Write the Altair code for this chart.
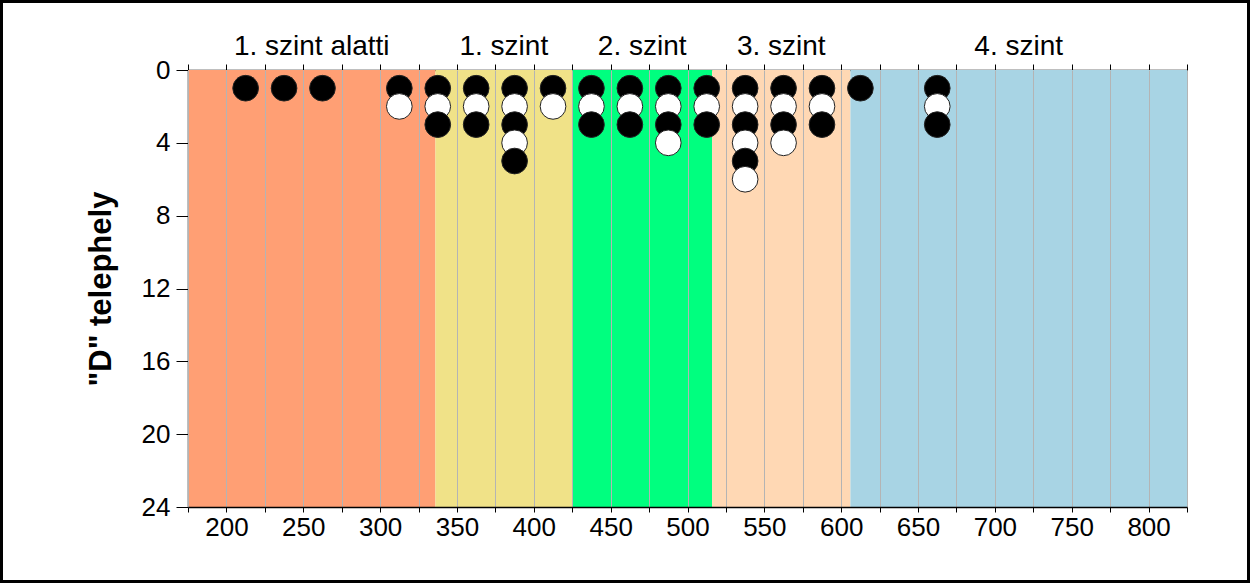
import altair as alt
import pandas as pd

# ---- data ----
band_start = [175, 336, 425, 516, 606]
band_end = [336, 425, 516, 606, 825]
band_labels = ["1. szint alatti", "1. szint", "2. szint", "3. szint", "4. szint"]
band_colors = ["#FF9F74", "#F0E288", "#00FF7F", "#FFD8B4", "#A8D4E4"]

col_x = [212.5, 237.5, 262.5, 312.5, 337.5, 362.5, 387.5, 412.5, 437.5,
         462.5, 487.5, 512.5, 537.5, 562.5, 587.5, 612.5, 662.5]
# stacked dots per column, top to bottom: B = black, W = white
col_stacks = ["B", "B", "B", "BW", "BWB", "BWB", "BWBWB", "BW", "BWB",
              "BWB", "BWBW", "BWB", "BWBWBW", "BWBW", "BWB", "B", "BWB"]

x_ticks = list(range(175, 826, 25))
y_ticks = [0, 4, 8, 12, 16, 20, 24]

FONT = "Liberation Sans"

bands = pd.DataFrame({
    "start": band_start,
    "end": band_end,
    "label": band_labels,
    "color": band_colors,
})
bands["mid"] = (bands["start"] + bands["end"]) / 2

rows = []
for cx, stack in zip(col_x, col_stacks):
    for i, c in enumerate(stack):
        rows.append({"x": cx, "y": i + 1, "c": c})
dots = pd.DataFrame(rows)

xscale = alt.Scale(domain=[175, 825], nice=False, zero=False)
yscale = alt.Scale(domain=[0, 24], reverse=True, nice=False, zero=False)

band_layer = alt.Chart(bands).mark_rect().encode(
    x=alt.X("start:Q", scale=xscale,
            axis=alt.Axis(orient="bottom", values=x_ticks, grid=True,
                          gridColor="#B4B4B4", gridWidth=1, gridOpacity=1,
                          labelExpr="datum.value % 50 == 0 ? datum.label : ''",
                          labelFontSize=26, labelFont=FONT, labelColor="black",
                          labelPadding=2, tickSize=5, tickColor="black",
                          domainColor="black", domainWidth=1.5, title=None,
                          labelFlush=False, labelOverlap=False, zindex=1)),
    x2="end:Q",
    y=alt.value(0),
    y2=alt.value(437),
    color=alt.Color("color:N", scale=None, legend=None),
)

dot_layer = alt.Chart(dots).mark_point(
    filled=True, shape="circle", size=660, stroke="#222222", strokeWidth=1,
    opacity=1
).encode(
    x=alt.X("x:Q", scale=xscale,
            axis=alt.Axis(orient="top", values=x_ticks, grid=False, labels=False,
                          tickSize=6, tickColor="black", domainColor="black",
                          domainWidth=1.5, title=None)),
    y=alt.Y("y:Q", scale=yscale,
            axis=alt.Axis(values=y_ticks, tickSize=12, tickColor="black",
                          domainColor="black", domainWidth=1.5, grid=False,
                          labelFontSize=26, labelFont=FONT, labelColor="black",
                          labelPadding=6, title='"D" telephely',
                          titleFont=FONT, titleFontSize=31, titleFontWeight="bold",
                          titleColor="black", titlePadding=24)),
    fill=alt.Fill("c:N", scale=alt.Scale(domain=["B", "W"], range=["black", "white"]),
                  legend=None),
)

text_layer = alt.Chart(bands).mark_text(
    font=FONT, fontSize=28, baseline="alphabetic", align="center", color="black"
).encode(
    x=alt.X("mid:Q", scale=xscale, axis=None),
    y=alt.value(-15),
    text="label:N",
)

frame = alt.Chart(pd.DataFrame({"k": [0]})).mark_rect(
    fill=None, stroke="black", strokeWidth=3
).encode(
    x=alt.value(-186.5), x2=alt.value(1060.5),
    y=alt.value(-68.5), y2=alt.value(511.5),
)

chart = alt.layer(band_layer, dot_layer, text_layer, frame).resolve_axis(
    x="independent"
).properties(
    width=999, height=437,
    padding={"left": 188, "top": 70, "right": 63, "bottom": 76},
    autosize=alt.AutoSizeParams(type="none"),
    background="white",
).configure_view(stroke=None)

chart.save("out.html", embed_options={"renderer": "svg", "actions": False})
